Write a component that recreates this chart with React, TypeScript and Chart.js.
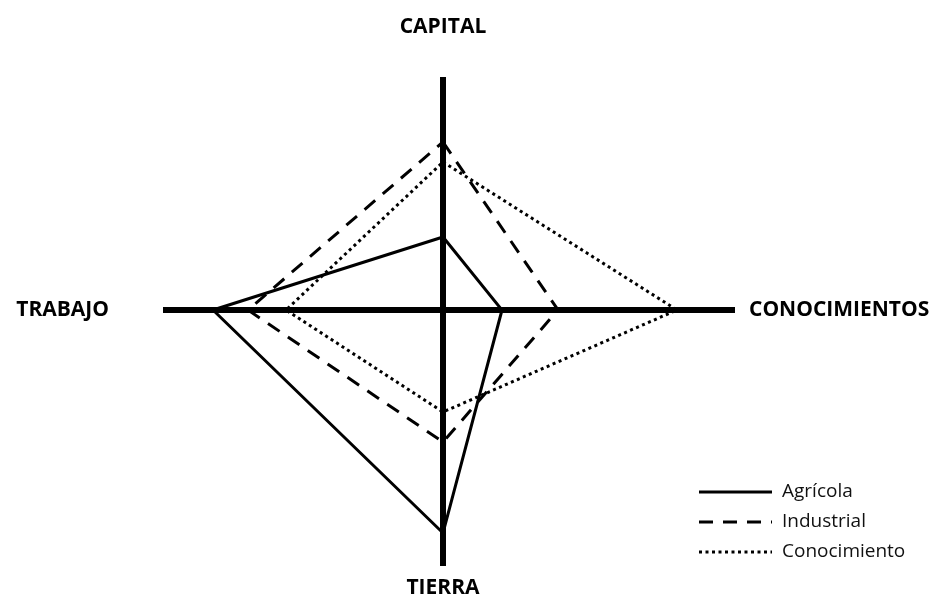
import React, { useEffect, useRef } from 'react';
import { Chart, registerables } from 'chart.js';

Chart.register(...registerables);

// Axis categories (clockwise from the top)
const axisLabels = ['CAPITAL', 'CONOCIMIENTOS', 'TIERRA', 'TRABAJO'];
// Series names
const seriesNames = ['Agrícola', 'Industrial', 'Conocimiento'];
// Values along each axis: CAPITAL, CONOCIMIENTOS, TIERRA, TRABAJO
const agricola = [73, 59, 223, 230];
const industrial = [168, 115, 132, 195];
const conocimiento = [148, 234, 102, 157];
// Line dash styles per series
const dashes: number[][] = [[], [14, 10], [3, 3.5]];

// Axis reach in each direction (value units)
const X_MIN = -280;
const X_MAX = 292;
const Y_MIN = -256;
const Y_MAX = 233;

// Direction of each category axis
const directions = [
  [0, 1],
  [1, 0],
  [0, -1],
  [-1, 0],
];

function toPoints(values: number[]) {
  const pts = values.map((v, i) => ({ x: directions[i][0] * v, y: directions[i][1] * v }));
  pts.push(pts[0]);
  return pts;
}

const overlayPlugin = {
  id: 'overlay',
  afterDraw(chart: any) {
    const { ctx, chartArea, scales } = chart;
    const cx = scales.x.getPixelForValue(0);
    const cy = scales.y.getPixelForValue(0);
    ctx.save();
    ctx.fillStyle = '#000';
    ctx.font = 'bold 21px "Open Sans"';
    ctx.textBaseline = 'middle';
    ctx.textAlign = 'center';
    ctx.fillText(axisLabels[0], cx, chartArea.top - 50);
    ctx.fillText(axisLabels[2], cx, chartArea.bottom + 22);
    ctx.textAlign = 'right';
    ctx.fillText(axisLabels[3], chartArea.left - 54, cy);
    ctx.textAlign = 'left';
    ctx.fillText(axisLabels[1], chartArea.right + 14, cy);

    // legend
    const lx = chartArea.right - 36;
    const ly = chartArea.bottom - 74;
    ctx.font = '19px "Open Sans"';
    ctx.fillStyle = '#111';
    chart.data.datasets.forEach((ds: any, i: number) => {
      const y = ly + i * 30;
      ctx.save();
      ctx.strokeStyle = ds.borderColor;
      ctx.lineWidth = ds.borderWidth;
      ctx.setLineDash(ds.borderDash || []);
      ctx.beginPath();
      ctx.moveTo(lx, y);
      ctx.lineTo(lx + 73, y);
      ctx.stroke();
      ctx.restore();
      ctx.textAlign = 'left';
      ctx.fillText(ds.label, lx + 83, y);
    });
    ctx.restore();
  },
};

export default function App() {
  const canvasRef = useRef<HTMLCanvasElement | null>(null);

  useEffect(() => {
    if (!canvasRef.current) return;
    const seriesValues = [agricola, industrial, conocimiento];
    const zeroOnly = (axis: any) => {
      axis.ticks = [{ value: 0 }];
    };
    const gridCfg = {
      drawTicks: false,
      color: (c: any) => (c.tick && c.tick.value === 0 ? '#000' : 'rgba(0,0,0,0)'),
      lineWidth: (c: any) => (c.tick && c.tick.value === 0 ? 6 : 0),
    };
    const chart = new Chart(canvasRef.current, {
      type: 'scatter',
      data: {
        datasets: seriesValues.map((vals, i) => ({
          label: seriesNames[i],
          data: toPoints(vals),
          showLine: true,
          borderColor: '#000',
          backgroundColor: '#000',
          borderWidth: 3,
          borderDash: dashes[i],
          borderJoinStyle: 'miter',
          pointRadius: 0,
          pointHoverRadius: 0,
          fill: false,
          tension: 0,
        })),
      },
      options: {
        animation: false,
        responsive: true,
        maintainAspectRatio: false,
        layout: { padding: { left: 163, right: 201, top: 77, bottom: 32 } },
        plugins: {
          legend: { display: false },
          tooltip: { enabled: false },
        },
        scales: {
          x: {
            type: 'linear',
            min: X_MIN,
            max: X_MAX,
            afterBuildTicks: zeroOnly,
            ticks: { display: false },
            border: { display: false },
            grid: gridCfg,
          },
          y: {
            type: 'linear',
            min: Y_MIN,
            max: Y_MAX,
            afterBuildTicks: zeroOnly,
            ticks: { display: false },
            border: { display: false },
            grid: gridCfg,
          },
        },
      } as any,
      plugins: [overlayPlugin],
    });
    return () => chart.destroy();
  }, []);

  return (
    <div style={{ position: 'fixed', left: 0, top: 0, width: 936, height: 598, background: '#fff' }}>
      <canvas ref={canvasRef} />
    </div>
  );
}
